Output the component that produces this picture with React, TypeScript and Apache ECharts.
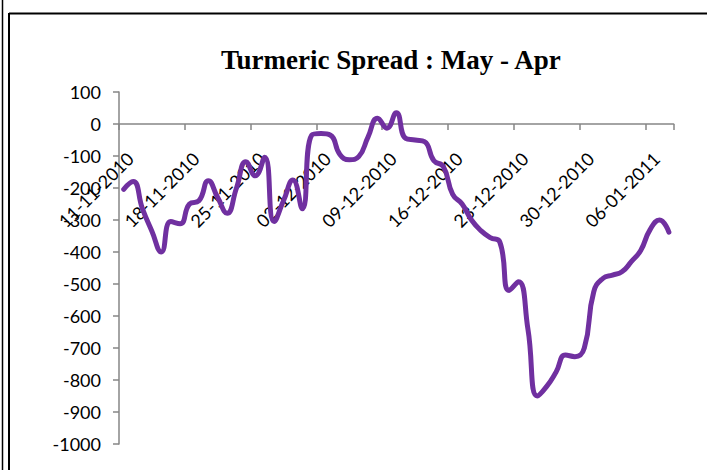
import React, { useEffect, useRef } from "react";
import * as echarts from "echarts";

const titleText = "Turmeric Spread : May - Apr";

const dates = [
  "11-11-2010", "12-11-2010", "13-11-2010", "14-11-2010", "15-11-2010", "16-11-2010", "17-11-2010",
  "18-11-2010", "19-11-2010", "20-11-2010", "21-11-2010", "22-11-2010", "23-11-2010", "24-11-2010",
  "25-11-2010", "26-11-2010", "27-11-2010", "28-11-2010", "29-11-2010", "30-11-2010", "01-12-2010",
  "02-12-2010", "03-12-2010", "04-12-2010", "05-12-2010", "06-12-2010", "07-12-2010", "08-12-2010",
  "09-12-2010", "10-12-2010", "11-12-2010", "12-12-2010", "13-12-2010", "14-12-2010", "15-12-2010",
  "16-12-2010", "17-12-2010", "18-12-2010", "19-12-2010", "20-12-2010", "21-12-2010", "22-12-2010",
  "23-12-2010", "24-12-2010", "25-12-2010", "26-12-2010", "27-12-2010", "28-12-2010", "29-12-2010",
  "30-12-2010", "31-12-2010", "01-01-2011", "02-01-2011", "03-01-2011", "04-01-2011", "05-01-2011",
  "06-01-2011", "07-01-2011", "08-01-2011",
];

const spread = [
  -204, -180, -265, -335, -400, -305, -312,
  -250, -240, -177, -230, -279, -200, -118,
  -162, -104, -305, -240, -175, -265, -35,
  -30, -35, -95, -112, -102, -40, 18,
  -13, 35, -45, -50, -55, -115, -133,
  -220, -250, -300, -333, -355, -368, -520,
  -493, -640, -850, -820, -775, -722, -727,
  -700, -525, -482, -472, -462, -430, -395,
  -330, -300, -338,
];

const yMin = -1000;
const yMax = 100;
const yStep = 100;
const labelEvery = 7;

export default function App() {
  const ref = useRef<HTMLDivElement>(null);

  useEffect(() => {
    document.body.style.margin = "0";
    if (!ref.current) return;
    const chart = echarts.init(ref.current, undefined, { renderer: "svg" });
    const axisGray = "#868686";
    const gridTop = 92;
    const gridBottom = 26;
    const plotH = 470 - gridTop - gridBottom;
    // move the x axis from the grid bottom up to the zero line
    const zeroOffset = -plotH * (0 - yMin) / (yMax - yMin);
    chart.setOption({
      animation: false,
      backgroundColor: "#ffffff",
      title: {
        text: titleText,
        left: 221,
        top: 46,
        padding: 0,
        textStyle: {
          fontFamily: "Liberation Serif",
          fontWeight: "bold",
          fontSize: 27,
          color: "#000000",
        },
      },
      grid: {
        left: 119,
        right: 33.4,
        top: gridTop,
        bottom: gridBottom,
        containLabel: false,
        outerBoundsMode: "none",
      },
      xAxis: {
        type: "category",
        data: dates,
        boundaryGap: true,
        position: "bottom",
        offset: zeroOffset,
        axisLine: { show: true, onZero: false, lineStyle: { color: axisGray, width: 1.5 } },
        axisTick: {
          show: true,
          length: 6,
          interval: (i: number) => i % labelEvery === 0,
          lineStyle: { color: axisGray, width: 1.5 },
        },
        axisLabel: {
          interval: (i: number) => i % labelEvery === 0,
          rotate: 45,
          margin: 25,
          verticalAlign: "top",
          fontFamily: "Lato",
          fontSize: 18,
          color: "#000000",
        },
        splitLine: { show: false },
      },
      yAxis: {
        type: "value",
        min: yMin,
        max: yMax,
        interval: yStep,
        axisLine: { show: true, lineStyle: { color: axisGray, width: 1.5 } },
        axisTick: { show: true, length: 6, lineStyle: { color: axisGray, width: 1.5 } },
        axisLabel: {
          margin: 18,
          fontFamily: "Lato",
          fontSize: 18,
          color: "#000000",
          formatter: (v: number) => String(v),
        },
        splitLine: { show: false },
      },
      series: [
        {
          type: "line",
          data: spread,
          smooth: 0.5,
          showSymbol: false,
          lineStyle: { color: "#7030A0", width: 5, cap: "round", join: "round" },
        },
      ],
      graphic: [
        { type: "line", shape: { x1: 2.5, y1: 0, x2: 2.5, y2: 470 }, style: { stroke: "#000", lineWidth: 1.5 } },
        { type: "line", shape: { x1: 9, y1: 13.5, x2: 707, y2: 13.5 }, style: { stroke: "#000", lineWidth: 2 } },
        { type: "line", shape: { x1: 9, y1: 13, x2: 9, y2: 470 }, style: { stroke: "#000", lineWidth: 2 } },
      ],
    });
    return () => chart.dispose();
  }, []);

  return <div ref={ref} style={{ width: 707, height: 470 }} />;
}
